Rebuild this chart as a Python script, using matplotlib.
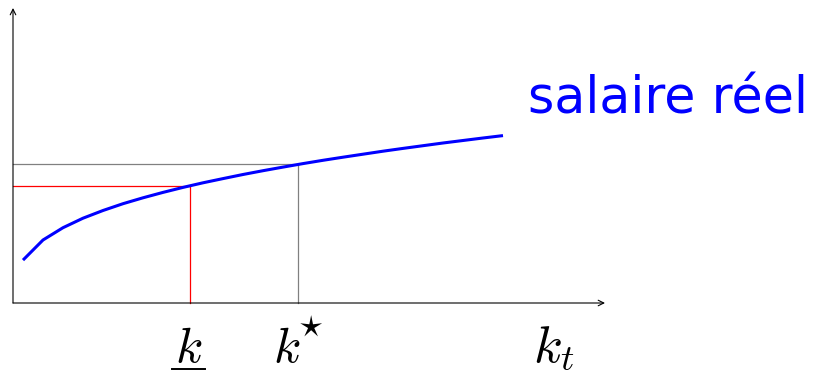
import matplotlib.pyplot as plt

plt.rcParams["mathtext.fontset"] = "cm"

# courbe du salaire réel
k_vals = [0.1, 0.3, 0.5, 0.7, 0.9, 1.1, 1.3, 1.5, 1.7, 1.9, 2.1, 2.3, 2.5,
          2.7, 2.9, 3.1, 3.3, 3.5, 3.7, 3.9, 4.1, 4.3, 4.5, 4.7, 4.9]
w_vals = [0.429, 0.630, 0.753, 0.848, 0.925, 0.993, 1.052, 1.106, 1.156,
          1.202, 1.244, 1.285, 1.323, 1.359, 1.394, 1.427, 1.458, 1.488,
          1.518, 1.546, 1.573, 1.600, 1.625, 1.650, 1.674]

k_low, w_low = 1.77, 1.17
k_star, w_star = 2.85, 1.39
x_max, y_max = 5.92, 2.95

fig = plt.figure(figsize=(8.16, 3.72), dpi=100)
ax = fig.add_axes([0, 0, 1, 1])
ax.set_xlim(-0.13, 8.03)
ax.set_ylim(-0.69, 3.03)
ax.axis("off")

# axes avec flèches
arrow = dict(arrowstyle="->", color="black", lw=0.8, shrinkA=0, shrinkB=0)
ax.annotate("", xy=(x_max, 0), xytext=(0, 0), arrowprops=arrow)
ax.annotate("", xy=(0, y_max), xytext=(0, 0), arrowprops=arrow)

# repères
ax.plot([0, k_star, k_star], [w_star, w_star, 0], color="gray", lw=0.9)
ax.plot([0, k_low, k_low], [w_low, w_low, 0], color="red", lw=0.9)

ax.plot(k_vals, w_vals, color="blue", lw=2.2, solid_capstyle="butt")

ax.text(5.15, 1.90, "salaire réel", color="blue",
        fontsize=36.5, ha="left", va="baseline")

ax.text(1.755, -0.59, r"$k$", fontsize=36, ha="center", va="baseline")
ax.plot([1.59, 1.92], [-0.655, -0.655], color="black", lw=1.4)
ax.text(2.74, -0.59, r"$k$", fontsize=36, ha="center", va="baseline")
ax.text(2.98, -0.33, r"$\star$", fontsize=25, ha="center", va="baseline")
ax.text(5.41, -0.59, r"$k_t$", fontsize=38, ha="center", va="baseline")

fig.savefig("out.png", dpi=100)
